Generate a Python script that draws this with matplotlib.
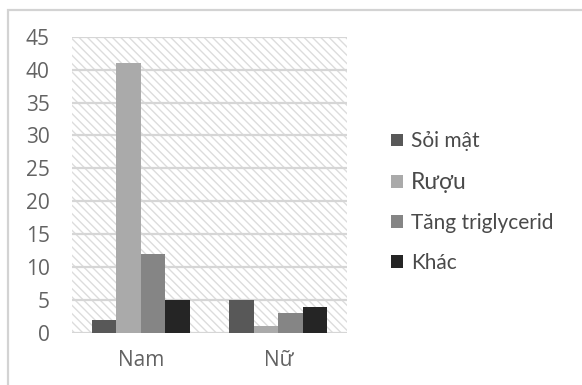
import matplotlib
matplotlib.use("Agg")
import matplotlib.pyplot as plt
from matplotlib.patches import Rectangle
import numpy as np

categories = ["Nam", "Nữ"]
series_names = ["Sỏi mật", "Rượu", "Tăng triglycerid", "Khác"]
soi_mat = [2, 5]
ruou = [41, 1]
tang_triglycerid = [12, 3]
khac = [5, 4]
y_ticks = [0, 5, 10, 15, 20, 25, 30, 35, 40, 45]

series_values = [soi_mat, ruou, tang_triglycerid, khac]
colors = ["#585858", "#aaaaaa", "#858585", "#252525"]

plt.rcParams["font.family"] = ["Open Sans", "DejaVu Sans"]
plt.rcParams["hatch.linewidth"] = 1.0
plt.rcParams["hatch.color"] = "#dcdcdc"

fig = plt.figure(figsize=(5.82, 3.85), dpi=100)
fig.patch.set_facecolor("white")

# outer chart frame
fig.add_artist(Rectangle((8 / 582, -0.05), 1.2, 1 - 10 / 385 + 0.05,
                         transform=fig.transFigure, fill=False,
                         edgecolor="#d3d3d3", linewidth=1.6))

ax = fig.add_axes([72 / 582, 1 - 333 / 385, 275 / 582, (333 - 36.7) / 385])
ax.set_xlim(-0.5, 1.5)
ax.set_ylim(0, 45)

# hatched plot background
ax.add_patch(Rectangle((0, 0), 1, 1, transform=ax.transAxes,
                       facecolor="white", edgecolor="#dcdcdc",
                       hatch="\\\\\\\\", linewidth=0, zorder=0))

x = np.arange(len(categories))
bar_w = 0.178
offsets = (np.arange(len(series_values)) - 1.5) * bar_w
handles = []
for vals, off, col, name in zip(series_values, offsets, colors, series_names):
    h = ax.bar(x + off, vals, width=bar_w, color=col, label=name, zorder=3,
               linewidth=0)
    handles.append(h)

for t in y_ticks:
    ax.axhline(t, color="#d6d6d6", linewidth=1.6, zorder=1)

ax.set_yticks(y_ticks)
ax.set_xticks(x)
ax.set_xticklabels(categories)
ax.tick_params(axis="both", length=0, labelsize=15, colors="#636363")
ax.tick_params(axis="y", pad=16)
ax.tick_params(axis="x", pad=12)
for s in ax.spines.values():
    s.set_visible(False)
ax.set_facecolor("none")

leg = fig.legend(handles=handles, labels=series_names,
                 loc="upper left", bbox_to_anchor=(383 / 582, 1 - 123 / 385),
                 frameon=False, prop={"family": ["Lato", "DejaVu Sans"], "size": 15},
                 handlelength=0.58, handleheight=0.58, handletextpad=0.35,
                 labelspacing=0.97, borderaxespad=0)
for txt in leg.get_texts():
    txt.set_color("#4a4a4a")
leg.get_texts()[1].set_fontsize(16.5)

fig.savefig("out.png", dpi=100, facecolor="white")
